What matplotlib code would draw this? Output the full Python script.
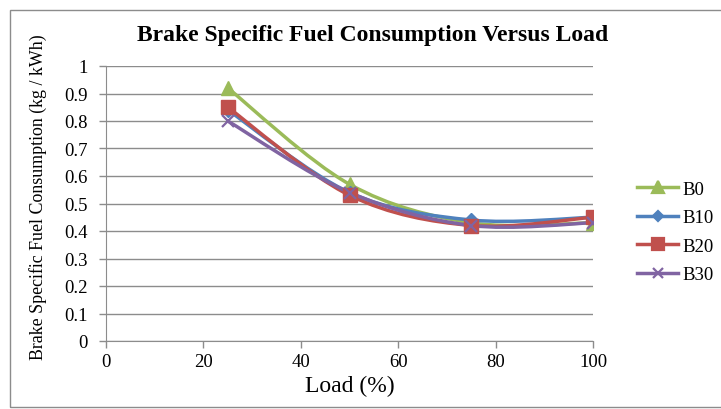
import numpy as np
import matplotlib
matplotlib.use('Agg')
import matplotlib.pyplot as plt
from matplotlib.path import Path
from matplotlib.patches import PathPatch, Rectangle
from matplotlib.lines import Line2D

plt.rcParams['font.family'] = ['Liberation Serif', 'DejaVu Serif']

load = [25, 50, 75, 100]
series_names = ['B0', 'B10', 'B20', 'B30']
b0 = [0.92, 0.57, 0.43, 0.43]
b10 = [0.84, 0.54, 0.44, 0.45]
b20 = [0.85, 0.53, 0.42, 0.45]
b30 = [0.80, 0.54, 0.42, 0.43]

colors = ['#9BBB59', '#4F81BD', '#C0504D', '#8064A2']
markers = ['^', 'D', 's', 'x']
msizes = [10, 7, 10, 9]


def smooth_path(xs, ys):
    # Excel-style smoothed line: cubic bezier with catmull-rom control points
    pts = np.column_stack([xs, ys]).astype(float)
    verts = [pts[0]]
    codes = [Path.MOVETO]
    n = len(pts)
    for i in range(n - 1):
        p0 = pts[i - 1] if i > 0 else pts[i]
        p1 = pts[i]
        p2 = pts[i + 1]
        p3 = pts[i + 2] if i + 2 < n else pts[i + 1]
        c1 = p1 + (p2 - p0) / 6.0
        c2 = p2 - (p3 - p1) / 6.0
        verts += [c1, c2, p2]
        codes += [Path.CURVE4] * 3
    return Path(verts, codes)


fig = plt.figure(figsize=(7.21, 4.10), dpi=100)
ax = fig.add_axes([106 / 721, 1 - 342 / 410, (593 - 106) / 721, (342 - 67) / 410])

fig.patches.append(Rectangle((10 / 721, 0.004), 1.2, 1 - 11 / 410 - 0.004,
                             transform=fig.transFigure, fill=False,
                             edgecolor='#8c8c8c', linewidth=1.0))

for name, vals, c, m, ms in zip(series_names, [b0, b10, b20, b30], colors, markers, msizes):
    ax.add_patch(PathPatch(smooth_path(load, vals), facecolor='none',
                           edgecolor=c, linewidth=2.5, zorder=3))
    if m == 'x':
        ax.plot(load, vals, linestyle='none', marker=m, markersize=ms,
                markeredgecolor=c, markeredgewidth=1.6, zorder=4)
    else:
        ax.plot(load, vals, linestyle='none', marker=m, markersize=ms,
                color=c, markeredgecolor=c, zorder=4)

ax.set_xlim(0, 100)
ax.set_ylim(0, 1)
ax.set_xticks([0, 20, 40, 60, 80, 100])
ax.set_yticks(np.arange(0, 1.01, 0.1))
ax.set_yticklabels(['0', '0.1', '0.2', '0.3', '0.4', '0.5', '0.6', '0.7', '0.8', '0.9', '1'])
ax.yaxis.grid(True, color='#8c8c8c', linewidth=1.0)
ax.set_axisbelow(True)
for s in ['top', 'right']:
    ax.spines[s].set_visible(False)
for s in ['left', 'bottom']:
    ax.spines[s].set_color('#8c8c8c')
ax.tick_params(axis='both', colors='#8c8c8c', labelcolor='black', labelsize=13.5,
               length=5, width=1.0)
ax.tick_params(axis='x', pad=4)
ax.tick_params(axis='y', pad=8)

ax.set_xlabel('Load (%)', fontsize=17, labelpad=3)
ax.set_ylabel('Brake Specific Fuel Consumption (kg / kWh)', fontsize=12.9)
ax.yaxis.set_label_coords(-0.121, 0.525)
fig.text(373 / 721, 1 - 35 / 410, 'Brake Specific Fuel Consumption Versus Load',
         fontsize=17, fontweight='bold', ha='center', va='center')

handles = []
for name, c, m, ms in zip(series_names, colors, markers, msizes):
    handles.append(Line2D([], [], color=c, linewidth=2.5, marker=m,
                          markersize=ms * 0.8, markeredgecolor=c,
                          markeredgewidth=1.6))
fig.legend(handles, series_names, loc='center left',
           bbox_to_anchor=(637 / 721, 1 - 233 / 410), frameon=False,
           borderpad=0, borderaxespad=0,
           fontsize=13.5, handlelength=2.2, handletextpad=0.25, labelspacing=0.6)

fig.savefig('out.png', dpi=100)
